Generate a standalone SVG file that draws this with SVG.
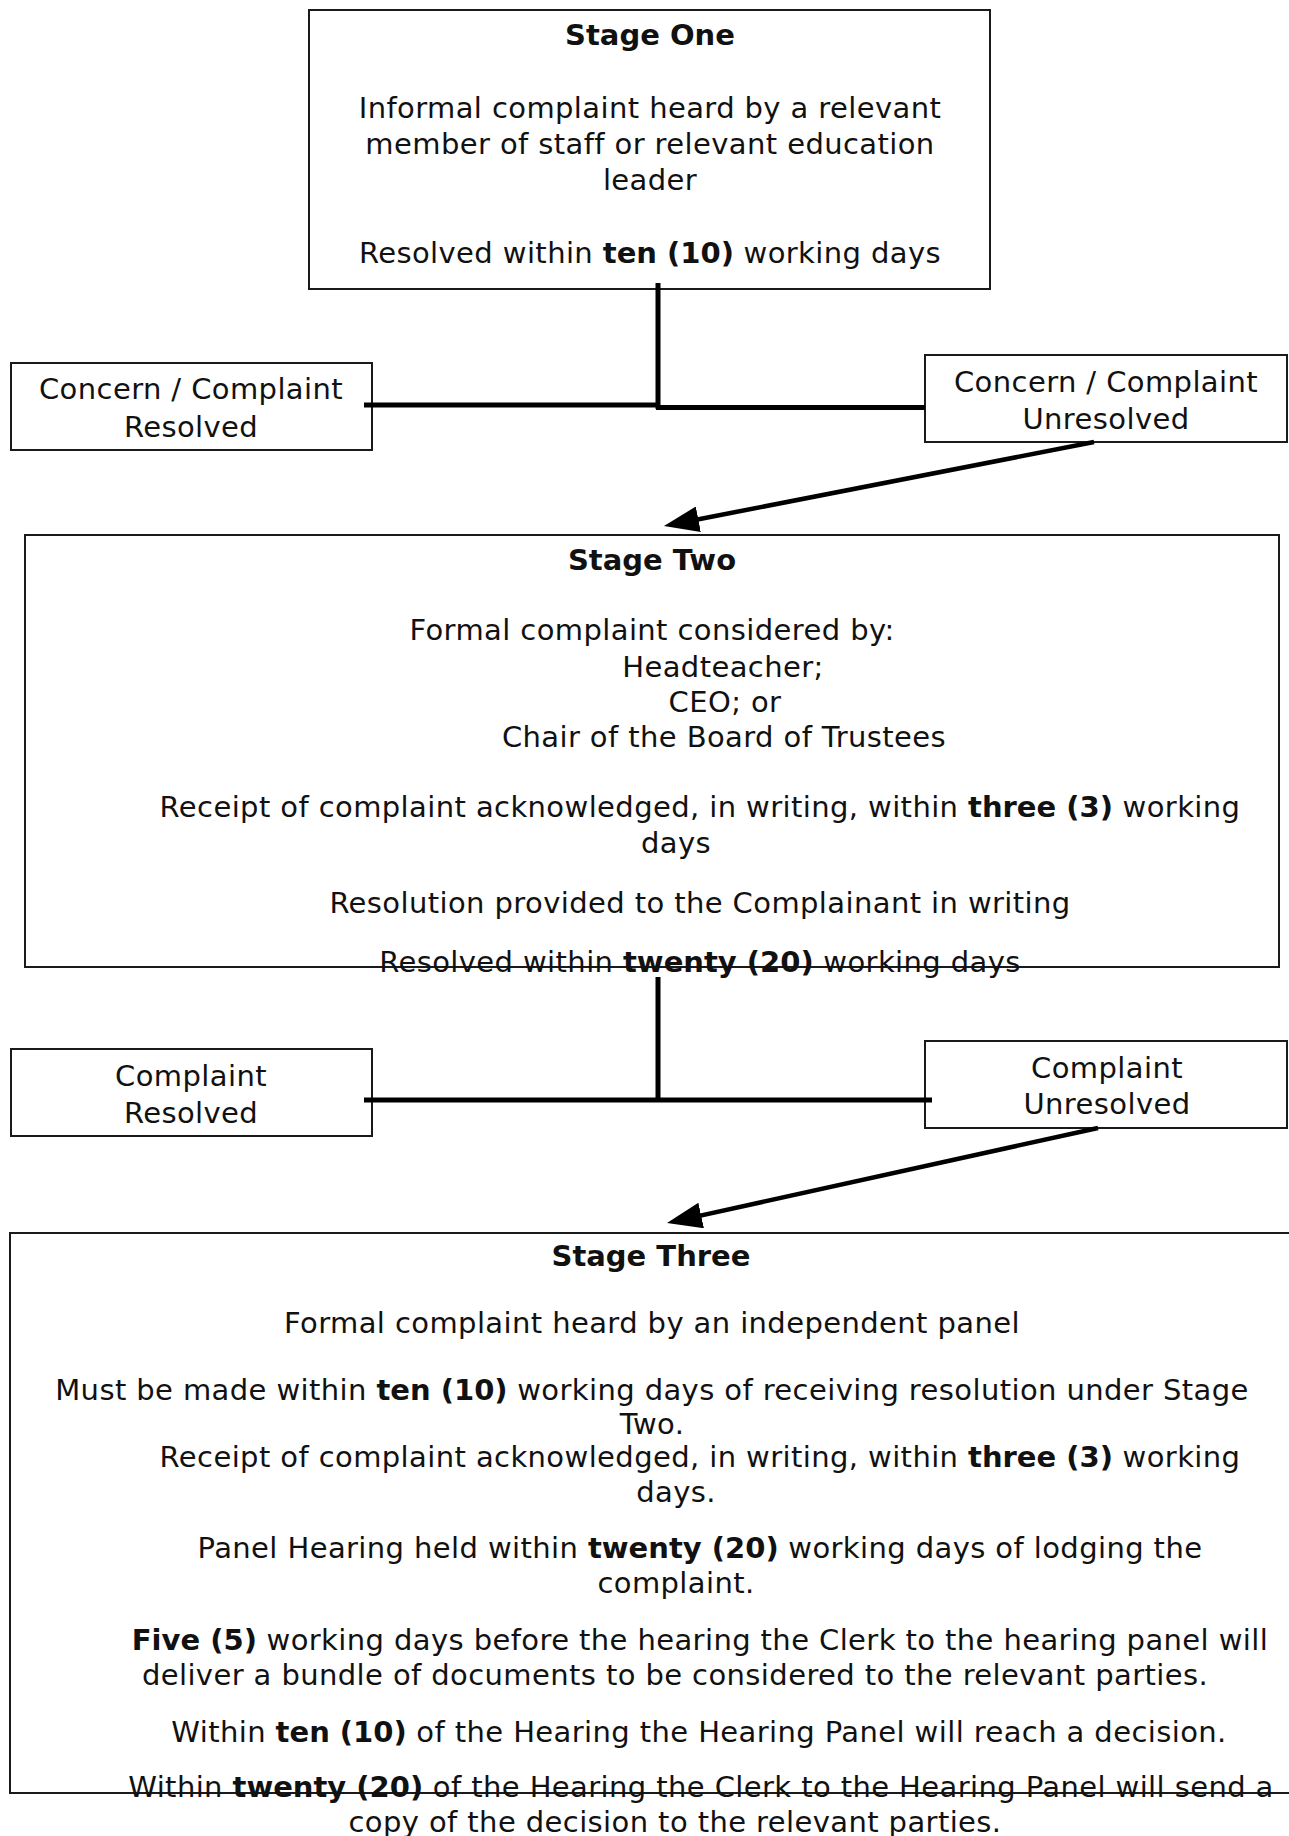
<svg xmlns="http://www.w3.org/2000/svg" width="1289" height="1836" viewBox="0 0 1289 1836">
<style>
.box{fill:none;stroke:#1a1a1a;stroke-width:2}
.t{font-family:"DejaVu Sans","Verdana",sans-serif;font-size:29px;fill:#111;text-anchor:middle;letter-spacing:0.4px}
.b{font-weight:bold;letter-spacing:0}
.ln{stroke:#000;stroke-width:5;fill:none}
.ar{stroke:#000;stroke-width:4.5;fill:none;marker-end:url(#ah)}
</style>
<defs>
<marker id="ah" markerUnits="userSpaceOnUse" markerWidth="36" markerHeight="26" refX="10" refY="13" orient="auto">
<path d="M0,0 L35,13 L0,26 Z" fill="#000"/>
</marker>
</defs>
<rect width="1289" height="1836" fill="#fff"/>

<g id="stage1">
<rect class="box" x="309" y="10" width="681" height="279"/>
<text class="t b" x="650" y="45">Stage One</text>
<text class="t" x="650" y="118">Informal complaint heard by a relevant</text>
<text class="t" x="650" y="154">member of staff or relevant education</text>
<text class="t" x="650" y="190">leader</text>
<text class="t" x="650" y="263">Resolved within <tspan class="b">ten (10)</tspan> working days</text>
</g>

<g id="resolved1">
<rect class="box" x="11" y="363" width="361" height="87"/>
<text class="t" x="191" y="399">Concern / Complaint</text>
<text class="t" x="191" y="437">Resolved</text>
</g>

<g id="unresolved1">
<rect class="box" x="925" y="355" width="362" height="87"/>
<text class="t" x="1106" y="392">Concern / Complaint</text>
<text class="t" x="1106" y="429">Unresolved</text>
</g>

<g id="stage2">
<rect class="box" x="25" y="535" width="1254" height="432"/>
<text class="t b" x="652" y="570">Stage Two</text>
<text class="t" x="652" y="640">Formal complaint considered by:</text>
<text class="t" x="723" y="677">Headteacher;</text>
<text class="t" x="725" y="712">CEO; or</text>
<text class="t" x="724" y="747">Chair of the Board of Trustees</text>
<text class="t" x="700" y="817">Receipt of complaint acknowledged, in writing, within <tspan class="b">three (3)</tspan> working</text>
<text class="t" x="676" y="853">days</text>
<text class="t" x="700" y="913">Resolution provided to the Complainant in writing</text>
<text class="t" x="700" y="972">Resolved within <tspan class="b">twenty (20)</tspan> working days</text>
</g>

<g id="resolved2">
<rect class="box" x="11" y="1049" width="361" height="87"/>
<text class="t" x="191" y="1086">Complaint</text>
<text class="t" x="191" y="1123">Resolved</text>
</g>

<g id="unresolved2">
<rect class="box" x="925" y="1041" width="362" height="87"/>
<text class="t" x="1107" y="1078">Complaint</text>
<text class="t" x="1107" y="1114">Unresolved</text>
</g>

<g id="stage3">
<rect class="box" x="10" y="1233" width="1290" height="560"/>
<text class="t b" x="651" y="1266">Stage Three</text>
<text class="t" x="652" y="1333">Formal complaint heard by an independent panel</text>
<text class="t" x="652" y="1400">Must be made within <tspan class="b">ten (10)</tspan> working days of receiving resolution under Stage</text>
<text class="t" x="652" y="1434">Two.</text>
<text class="t" x="700" y="1467">Receipt of complaint acknowledged, in writing, within <tspan class="b">three (3)</tspan> working</text>
<text class="t" x="676" y="1502">days.</text>
<text class="t" x="700" y="1558">Panel Hearing held within <tspan class="b">twenty (20)</tspan> working days of lodging the</text>
<text class="t" x="676" y="1593">complaint.</text>
<text class="t" x="700" y="1650"><tspan class="b">Five (5)</tspan> working days before the hearing the Clerk to the hearing panel will</text>
<text class="t" x="675" y="1685">deliver a bundle of documents to be considered to the relevant parties.</text>
<text class="t" x="699" y="1742">Within <tspan class="b">ten (10)</tspan> of the Hearing the Hearing Panel will reach a decision.</text>
<text class="t" x="701" y="1797">Within <tspan class="b">twenty (20)</tspan> of the Hearing the Clerk to the Hearing Panel will send a</text>
<text class="t" x="675" y="1832">copy of the decision to the relevant parties.</text>
</g>

<g id="connectors">
<line class="ln" x1="658" y1="283" x2="658" y2="409"/>
<line class="ln" x1="364" y1="405" x2="660" y2="405"/>
<line class="ln" x1="656" y1="407.5" x2="925" y2="407.5"/>
<line class="ar" x1="1094" y1="442" x2="688.5" y2="521.2"/>
<line class="ln" x1="658" y1="977" x2="658" y2="1100"/>
<line class="ln" x1="364" y1="1100" x2="932" y2="1100"/>
<line class="ar" x1="1098" y1="1128" x2="691.4" y2="1217.6"/>
</g>
</svg>
